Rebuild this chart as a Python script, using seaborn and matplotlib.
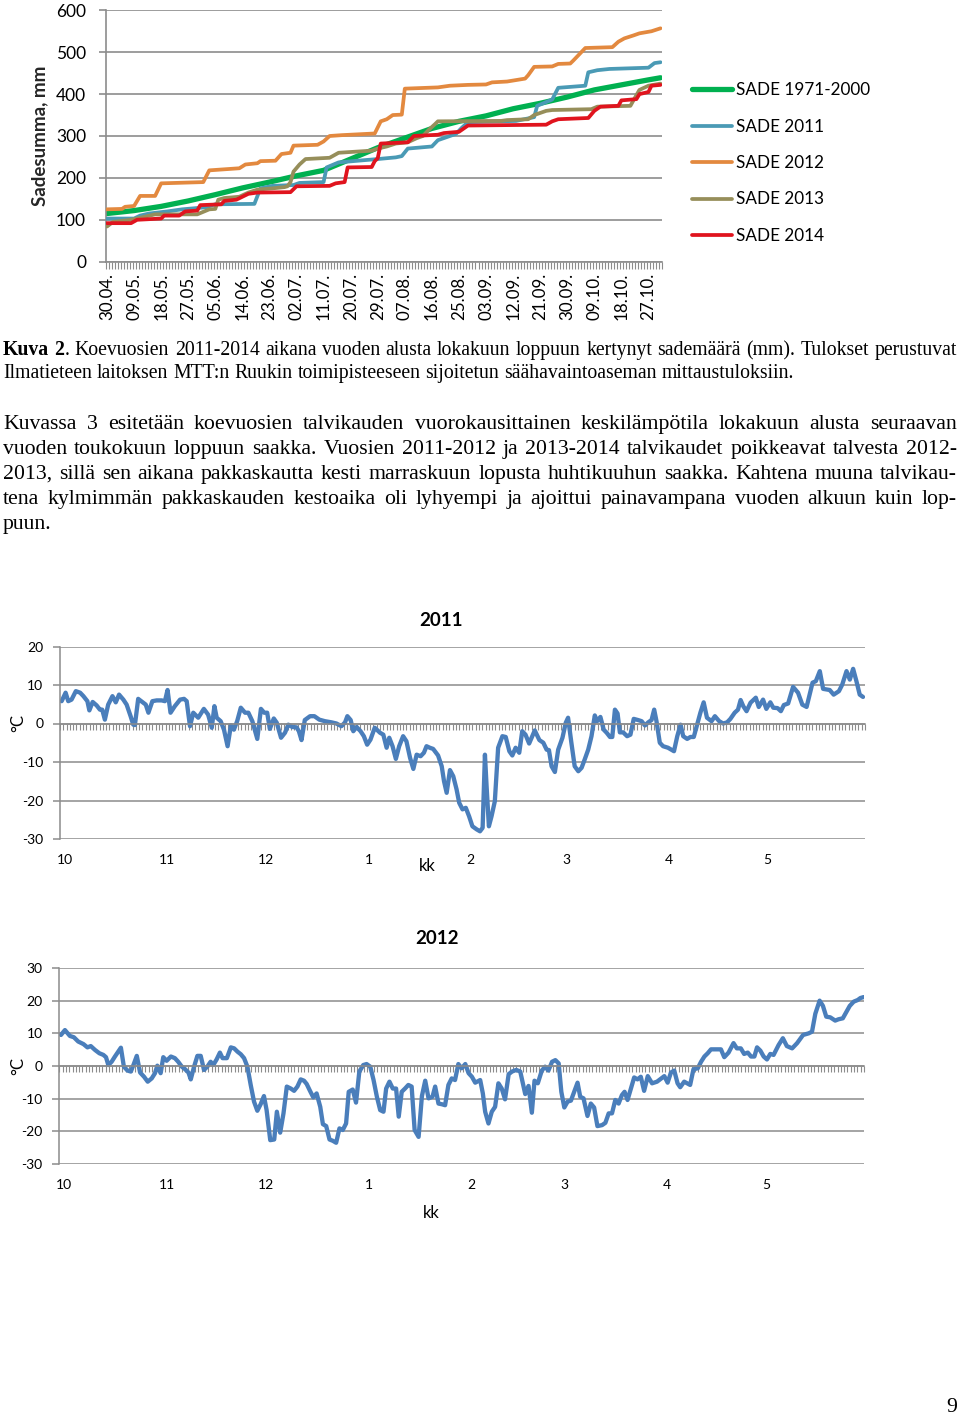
import numpy as np
import pandas as pd
import matplotlib
matplotlib.use("Agg")
import matplotlib.pyplot as plt
import matplotlib.transforms as mtransforms
import seaborn as sns

# ------------------------------------------------------------------ data
N_DAYS_RAIN = 185  # 30.04. ... 31.10.
DATE_LABELS = ["30.04.", "09.05.", "18.05.", "27.05.", "05.06.", "14.06.", "23.06.",
               "02.07.", "11.07.", "20.07.", "29.07.", "07.08.", "16.08.", "25.08.",
               "03.09.", "12.09.", "21.09.", "30.09.", "09.10.", "18.10.", "27.10."]
DATE_LABEL_POS = [0, 9, 18, 27, 36, 45, 54, 63, 72, 81, 90, 99, 108, 117, 126,
                  135, 144, 153, 162, 171, 180]
SERIES_NAMES = ["SADE 1971-2000", "SADE 2011", "SADE 2012", "SADE 2013", "SADE 2014"]

NORM_D = [0, 9, 18, 27, 36, 45, 54, 63, 72, 81, 90, 99, 108, 117, 126, 135, 144,
          153, 162, 171, 180, 184]
NORM_V = [115, 122, 132, 145, 160, 176, 190, 205, 218, 245, 272, 295, 318, 335,
          348, 365, 378, 393, 410, 422, 434, 439]

R2011_D = [0, 9, 11, 14, 20, 25, 33, 36, 49, 51, 55, 62, 64, 72, 73, 77, 85, 90,
           96, 98, 100, 108, 110, 114, 116, 118, 120, 136, 140, 142, 143, 148,
           150, 159, 160, 163, 167, 180, 182, 184]
R2011_V = [103, 103, 110, 115, 120, 125, 130, 137, 138, 175, 181, 183, 188, 190,
           225, 237, 242, 245, 249, 252, 270, 275, 290, 300, 305, 320, 333, 336,
           342, 345, 372, 387, 415, 420, 452, 457, 460, 463, 474, 476]

R2012_D = [0, 5, 6, 9, 11, 16, 18, 32, 34, 44, 46, 50, 51, 56, 58, 61, 62, 70, 72,
           74, 78, 89, 91, 93, 95, 98, 99, 110, 114, 120, 126, 128, 133, 139, 140,
           142, 148, 150, 154, 155, 157, 159, 168, 170, 172, 175, 177, 181, 184]
R2012_V = [125, 126, 131, 133, 157, 157, 187, 190, 218, 223, 232, 235, 240, 241,
           257, 260, 277, 279, 287, 300, 302, 306, 335, 340, 350, 351, 413, 416,
           420, 422, 423, 428, 430, 437, 445, 465, 466, 472, 473, 480, 495, 510,
           512, 525, 533, 540, 545, 550, 557]

R2013_D = [0, 2, 8, 13, 16, 30, 31, 34, 36, 37, 39, 44, 47, 50, 55, 59, 60, 61,
           62, 64, 66, 74, 77, 88, 90, 93, 96, 100, 103, 105, 107, 109, 110, 131,
           133, 140, 142, 144, 146, 148, 161, 163, 174, 175, 177, 180, 184]
R2013_V = [84, 95, 100, 108, 113, 113, 116, 125, 126, 148, 152, 155, 165, 172,
           175, 178, 180, 190, 215, 232, 245, 248, 260, 265, 270, 275, 282, 285,
           295, 300, 315, 328, 335, 336, 338, 340, 350, 355, 360, 362, 364, 370,
           372, 385, 410, 420, 425]

R2014_D = [0, 8, 10, 18, 19, 24, 26, 30, 31, 38, 39, 43, 45, 47, 50, 61, 63, 74,
           76, 79, 80, 88, 89, 90, 91, 100, 102, 110, 112, 117, 119, 120, 146, 148,
           150, 160, 162, 164, 170, 171, 176, 177, 180, 181, 184]
R2014_V = [92, 92, 100, 103, 110, 110, 120, 122, 135, 137, 145, 148, 155, 162,
           165, 166, 180, 181, 187, 190, 225, 226, 240, 247, 282, 285, 300, 303,
           307, 310, 320, 325, 327, 335, 340, 343, 360, 370, 372, 385, 388, 400,
           405, 420, 422]

MONTH_LABELS = ["10", "11", "12", "1", "2", "3", "4", "5"]
N_DAYS_2011 = 244
MONTH_START_2011 = [0, 31, 61, 92, 123, 152, 183, 213]
N_DAYS_2012 = 243
MONTH_START_2012 = [0, 31, 61, 92, 123, 151, 182, 212]

T2011_D = [0, 1.2, 2, 3, 4.3, 5.6, 6.6, 7.8, 8.4, 9.4, 10.6, 11.6, 12.3, 13.1, 14.1,
           15.4, 16.4, 17.4, 18.7, 19.7, 20.9, 21.7, 22.2, 23.2, 24.7, 25.5, 26.3,
           27.5, 28.8, 30.3, 31.3, 32.1, 33, 34.3, 35.9, 37.1, 37.9, 38.9, 39.9,
           41.4, 43.1, 44.4, 45.5, 46.3, 47, 48.2, 49.2, 50.3, 51.3, 52.2, 53.2,
           54.3, 55.6, 56.6, 57.8, 59.3, 60.4, 61.4, 62.3, 63.1, 64.3, 65.2, 66.5,
           67.7, 68.7, 69.9, 71.2, 71.9, 72.7, 73.7, 75.3, 76.6, 78.1, 79.8, 81.8,
           83.3, 84.8, 85.9, 86.6, 87.6, 88.4, 89.4, 90.6, 91.6, 92.6, 93.6, 94.9,
           96.5, 97.5, 98.5, 99.3, 100.3, 101.3, 102.3, 103.5, 104.5, 105.6, 106.6,
           107.6, 108.8, 109.8, 110.6, 111.6, 112.6, 114.1, 115.2, 115.9, 116.7,
           117.7, 118.7, 119.7, 120.5, 121.5, 122.5, 123.5, 124.5, 125.8, 126.8,
           127.6, 128.3, 128.8, 129.5, 130.3, 131.3, 132.3, 133.6, 134.6, 135.7,
           136.6, 137.6, 138.7, 139.6, 140.6, 141.7, 143.4, 144.8, 146, 147, 147.7,
           148.5, 149.5, 150.5, 151.8, 152.8, 153.5, 154.5, 155.5, 156.6, 157.6,
           158.6, 159.6, 160.6, 161.6, 162.3, 163.3, 164.3, 165.2, 166.2, 166.9,
           167.7, 168.5, 169.2, 170.2, 171.4, 172.4, 173.4, 174.7, 175.8, 176.8,
           177.8, 178.8, 179.6, 180.3, 181.3, 182.3, 183.8, 185.6, 186.6, 187.6,
           188.4, 189.6, 190.6, 191.6, 192.6, 193.6, 194.6, 195.6, 197, 198, 199.3,
           200.5, 201.7, 202.7, 204, 205, 205.8, 206.6, 207.6, 208.8, 210.4, 211.3,
           212.6, 213.6, 214.8, 215.7, 217, 218, 218.9, 220.2, 221.7, 223.2, 224.5,
           225.8, 227.6, 228.6, 229.8, 230.8, 232.8, 234, 235.6, 236.6, 237.9,
           238.9, 239.9, 240.9, 241.9, 242.9]
T2011_V = [5.8, 8.0, 5.8, 6.2, 8.4, 8.0, 7.1, 5.8, 3.4, 5.6, 4.7, 3.6, 3.6, 1.0, 4.9,
           7.1, 5.5, 7.5, 6.2, 4.9, 1.9, -0.3, -0.4, 6.4, 5.4, 4.9, 2.8, 5.8, 6.0,
           6.0, 5.8, 8.7, 2.8, 4.5, 6.2, 6.4, 5.8, -0.7, 2.8, 1.5, 3.8, 2.3, -1.1,
           4.5, 1.5, 0.6, -1.6, -5.9, -0.5, -1.6, 0.6, 4.1, 2.8, 2.8, 0.6, -4.0,
           3.8, 2.8, 2.8, -1.4, 1.3, 0.2, -3.7, -2.4, -0.3, -0.9, -1.0, -2.0, -4.3,
           0.9, 1.9, 1.9, 1.0, 0.6, 0.3, 0.0, -0.7, 0.3, 1.9, 0.9, -2.0, -0.9, -2.0,
           -3.3, -5.5, -4.2, -1.1, -2.4, -2.9, -6.3, -3.7, -5.9, -9.2, -5.9, -3.3,
           -4.6, -8.9, -11.8, -8.1, -8.5, -7.6, -5.9, -6.3, -6.6, -8.3, -11.1,
           -15.0, -18.0, -12.1, -13.7, -17.1, -20.6, -22.3, -21.9, -24.1, -26.7,
           -27.5, -28.0, -27.1, -8.1, -16.3, -26.7, -24.1, -20.2, -6.3, -3.3, -3.5,
           -7.2, -8.3, -6.3, -7.6, -2.0, -2.9, -5.2, -1.8, -4.3, -5.0, -6.8, -6.9,
           -11.1, -12.6, -6.8, -3.7, 0.2, 1.5, -5.0, -11.1, -12.4, -11.5, -9.2,
           -6.8, -3.3, 2.1, 0.6, 1.7, -1.6, -2.4, -3.5, -3.5, 3.6, 2.6, -2.3, -2.3,
           -3.3, -2.9, 1.2, 0.9, 0.6, -0.5, 0.3, 0.9, 3.6, 0.6, -5.0, -5.9, -6.3,
           -7.2, -3.3, -0.3, -3.3, -4.0, -3.5, -3.5, -0.3, 2.8, 5.5, 1.5, 0.6, 1.9,
           0.6, 0.0, 0.3, 1.2, 2.8, 3.6, 6.1, 4.5, 3.2, 5.4, 6.7, 4.3, 6.2, 3.8,
           5.5, 4.1, 4.0, 3.2, 4.8, 5.2, 9.5, 8.0, 4.9, 4.3, 10.6, 11.0, 13.6, 9.0,
           8.7, 7.5, 8.4, 10.1, 13.6, 11.4, 14.2, 11.0, 7.5, 6.9]

T2012_D = [0, 1.2, 2.7, 3.9, 5.2, 6.8, 8, 9, 10.3, 11.6, 12.8, 13.6, 14.3, 15.3, 16.3,
           17.3, 18.1, 19, 20.1, 21.1, 22, 22.9, 23.9, 25.1, 26.2, 27.4, 28.4, 29.1,
           30.1, 30.9, 31.9, 33.2, 34.4, 35.4, 36.5, 37.5, 38.5, 39.2, 40.2, 41.2,
           42.2, 43.2, 44.2, 45.2, 46, 47, 48, 48.8, 50.1, 51.3, 52.3, 53.3, 54.3,
           55.3, 56.3, 57.3, 58.3, 59.3, 60.3, 61.3, 62.1, 63.2, 64.4, 65.2, 66.2,
           67.2, 68.2, 69.4, 70.4, 71.4, 72.4, 73.4, 74.2, 75.2, 76.2, 77.2, 78.3,
           79.1, 80.1, 81.1, 82.1, 83.1, 84.1, 85.1, 86.1, 86.9, 88.1, 89.1, 90.1,
           91.3, 92.3, 93.4, 94.4, 95.4, 96.4, 97.4, 98.2, 99.2, 100.2, 101.2, 102,
           102.9, 103.9, 104.9, 105.9, 106.8, 108, 109, 110, 111, 112.2, 113, 114,
           115, 116, 117, 118, 119, 120, 121, 122.1, 123.1, 124.1, 125.1, 126.6,
           127.4, 128.1, 129.1, 130.1, 131.1, 132.1, 133.1, 134.1, 135.2, 136.2,
           137.5, 138.7, 139.7, 140.2, 141.2, 142.2, 143, 144, 145.2, 146.2, 147.2,
           148.3, 149.3, 150.3, 151.1, 152, 153, 154, 154.8, 156, 156.8, 157.8, 159,
           160, 161, 162, 163.4, 164.4, 165.4, 166.4, 167.4, 168.4, 169.4, 170.2,
           171.1, 172.1, 173.1, 174.1, 175.1, 176.1, 177.2, 178.5, 180, 182.2,
           183.2, 184.2, 185.2, 186.2, 187, 188.2, 190, 191, 192.3, 193.3, 194.3,
           195.3, 196.3, 197.6, 199.3, 200.3, 201.6, 203.1, 204.1, 205.3, 206.3,
           207.4, 208.4, 209.4, 210.2, 211.2, 212.2, 213.2, 214.2, 215.2, 216.7,
           218, 219.2, 220.8, 222.3, 224.1, 225.8, 226.8, 227.8, 229.1, 230.1,
           231.1, 232.3, 233.8, 234.8, 236.1, 237.1, 238.2, 239.4, 240.6, 241.4,
           242.4]
T2012_V = [9.5, 11.0, 9.2, 8.8, 7.5, 6.7, 5.7, 6.1, 4.9, 3.9, 3.4, 2.7, 0.3, 1.3, 2.9,
           4.4, 5.6, -0.2, -1.4, -1.7, 0.6, 3.1, -2.0, -3.3, -4.8, -3.8, -2.2, 0.1,
           -2.2, 2.7, 1.6, 2.9, 2.4, 1.3, -0.2, -1.0, -2.0, -4.1, -0.2, 3.1, 3.1,
           -1.2, -0.2, 1.3, 0.3, 2.0, 4.1, 2.4, 2.4, 5.7, 5.4, 4.4, 3.6, 2.4, -0.2,
           -5.8, -10.9, -13.7, -11.7, -9.2, -13.5, -22.7, -22.5, -14.0, -20.4,
           -14.5, -6.3, -6.9, -7.6, -6.3, -4.1, -4.5, -5.5, -7.6, -9.6, -8.4, -12.5,
           -17.8, -18.4, -22.5, -22.9, -23.5, -19.1, -19.6, -17.6, -7.9, -7.2,
           -11.2, -1.7, 0.3, 0.6, -0.2, -4.3, -9.4, -13.5, -14.0, -6.9, -4.8, -6.9,
           -6.9, -15.5, -7.9, -6.9, -5.8, -6.3, -19.6, -21.7, -9.2, -4.5, -9.9,
           -9.4, -6.3, -11.5, -11.7, -12.0, -5.8, -3.8, -4.3, 0.6, -0.7, 0.6, -2.2,
           -3.3, -5.1, -4.3, -8.4, -14.0, -17.6, -14.0, -12.5, -5.3, -6.9, -10.2,
           -2.5, -1.7, -1.2, -1.7, -6.3, -8.6, -6.1, -14.3, -4.5, -5.3, -1.4, -0.2,
           -1.4, 1.3, 1.8, 0.8, -7.9, -12.7, -10.9, -10.6, -8.4, -5.1, -9.4, -9.9,
           -15.3, -11.5, -12.7, -18.4, -18.1, -17.4, -14.5, -14.5, -10.4, -11.5,
           -8.9, -7.9, -10.4, -6.9, -3.5, -4.1, -3.3, -7.6, -3.1, -5.3, -4.8, -3.1,
           -5.1, -2.0, -1.4, -5.3, -6.5, -4.8, -5.8, -1.0, -0.7, 1.3, 2.9, 3.9, 5.1,
           5.1, 5.1, 2.7, 4.1, 7.0, 5.4, 5.4, 3.7, 4.1, 2.9, 2.9, 5.7, 4.7, 2.9, 2.0,
           3.7, 3.4, 6.4, 8.5, 6.1, 5.4, 7.0, 9.5, 10.0, 10.5, 16.0, 20.0, 18.4,
           15.1, 14.9, 13.9, 14.3, 14.6, 16.4, 18.4, 19.7, 20.2, 20.8, 21.1]

CAPTION_LINES = [
    "Kuva 2. Koevuosien 2011-2014 aikana vuoden alusta lokakuun loppuun kertynyt sademäärä (mm). Tulokset perustuvat",
    "Ilmatieteen laitoksen MTT:n Ruukin toimipisteeseen sijoitetun säähavaintoaseman mittaustuloksiin.",
]
PARA_LINES = [
    "Kuvassa 3 esitetään koevuosien talvikauden vuorokausittainen keskilämpötila lokakuun alusta seuraavan",
    "vuoden toukokuun loppuun saakka. Vuosien 2011-2012 ja 2013-2014 talvikaudet poikkeavat talvesta 2012-",
    "2013, sillä sen aikana pakkaskautta kesti marraskuun lopusta huhtikuuhun saakka. Kahtena muuna talvikau-",
    "tena kylmimmän pakkaskauden kestoaika oli lyhyempi ja ajoittui painavampana vuoden alkuun kuin lop-",
    "puun.",
]
PAGE_NUMBER = "9"

# ------------------------------------------------------------------ style
W, H = 960, 1417
sns.set_theme(style="white")
plt.rcParams["font.family"] = ["Lato", "DejaVu Sans"]
plt.rcParams["text.color"] = "black"
plt.rcParams["axes.unicode_minus"] = False
GRID = "#8c8c8c"
COLORS = ["#00B050", "#4A9AB5", "#E3893F", "#968E5A", "#E0141E"]
TEMP_COLOR = "#4A7EBB"
SERIF = ["Liberation Serif", "DejaVu Serif"]

fig = plt.figure(figsize=(W / 100, H / 100), dpi=100, facecolor="white")


def px_axes(l, t, r, b):
    return fig.add_axes([l / W, 1 - b / H, (r - l) / W, (b - t) / H])


def sline(ax, d, v, color, lw, label=None, z=2):
    df = pd.DataFrame({"d": d, "v": v})
    sns.lineplot(data=df, x="d", y="v", ax=ax, color=color, linewidth=lw,
                 sort=False, estimator=None, label=label, zorder=z,
                 solid_joinstyle="round", solid_capstyle="round")


# ------------------------------------------------------------------ rain chart
ax1 = px_axes(105.5, 10.3, 662, 261.7)
rain = [(NORM_D, NORM_V, 3.8), (R2011_D, R2011_V, 2.7), (R2012_D, R2012_V, 2.7),
        (R2013_D, R2013_V, 2.7), (R2014_D, R2014_V, 2.7)]
for k, (d, v, lw) in enumerate(rain):
    sline(ax1, d, v, COLORS[k], lw, label=SERIES_NAMES[k], z=2 + k)
handles, labels = ax1.get_legend_handles_labels()
if ax1.get_legend() is not None:
    ax1.get_legend().remove()
ax1.set_xlim(-0.5, N_DAYS_RAIN - 0.5)
ax1.set_ylim(0, 600)
ax1.set_xlabel("")
ax1.set_ylabel("Sadesumma, mm", fontsize=13.5, fontweight="bold")
ax1.yaxis.set_label_coords(-0.102, 0.5)
ax1.set_yticks(range(0, 601, 100))
ax1.yaxis.grid(True, color=GRID, lw=1.2)
ax1.xaxis.grid(False)
ax1.set_axisbelow(True)
for s in ["top", "right"]:
    ax1.spines[s].set_visible(False)
for s in ["left", "bottom"]:
    ax1.spines[s].set_color(GRID)
    ax1.spines[s].set_linewidth(1.2)
ax1.tick_params(axis="y", left=True, length=5, width=1.2, color=GRID,
                labelsize=12.5, labelcolor="black", pad=9)
ax1.set_xticks(DATE_LABEL_POS)
ax1.set_xticklabels(DATE_LABELS, rotation=90)
ax1.tick_params(axis="x", which="major", bottom=True, length=0, pad=8,
                labelsize=12.2, labelcolor="black")
ax1.set_xticks(np.arange(-0.5, N_DAYS_RAIN, 1.0), minor=True)
ax1.tick_params(axis="x", which="minor", bottom=True, length=5, width=0.8, color=GRID)

fig.legend(handles, labels, loc="upper left", bbox_to_anchor=(692 / W, 1 - 82 / H),
           bbox_transform=fig.transFigure, frameon=False, fontsize=12.3,
           borderpad=0, borderaxespad=0, handlelength=2.35, handletextpad=0.25,
           labelspacing=1.2)


# ------------------------------------------------------------------ temperature charts
def temp_chart(box, days, vals, ylim, n_days, month_start, title, title_xy, kk_xy, c_xy):
    ax = px_axes(*box)
    sline(ax, days, vals, TEMP_COLOR, 3.1)
    ax.set_xlim(-0.5, n_days - 0.5)
    ax.set_ylim(*ylim)
    ax.set_xlabel("")
    ax.set_ylabel("")
    ax.set_yticks(np.arange(ylim[0], ylim[1] + 1, 10))
    ax.yaxis.grid(True, color=GRID, lw=1.1)
    ax.xaxis.grid(False)
    ax.set_axisbelow(True)
    for s in ["top", "right"]:
        ax.spines[s].set_visible(False)
    ax.spines["left"].set_color(GRID)
    ax.spines["left"].set_linewidth(1.1)
    ax.spines["bottom"].set_position(("data", 0))
    ax.spines["bottom"].set_color(GRID)
    ax.spines["bottom"].set_linewidth(1.1)
    ax.tick_params(axis="y", left=True, length=5, width=1.1, color=GRID,
                   labelsize=10, labelcolor="black", pad=7)
    ax.set_xticks([])
    ax.set_xticks(np.arange(-0.5, n_days, 1.0), minor=True)
    ax.tick_params(axis="x", which="minor", bottom=True, length=4, width=0.8,
                   color=GRID, labelbottom=False)
    trans = mtransforms.offset_copy(
        mtransforms.blended_transform_factory(ax.transData, ax.transAxes),
        fig=fig, y=-21, units="dots")
    for lab, st in zip(MONTH_LABELS, month_start):
        ax.text(st + 1, 0, lab, transform=trans, ha="center", va="center",
                fontsize=10, color="black")
    fig.text(title_xy[0] / W, 1 - title_xy[1] / H, title, ha="center", va="center",
             fontsize=13.5, fontweight="bold")
    fig.text(kk_xy[0] / W, 1 - kk_xy[1] / H, "kk", ha="center", va="center", fontsize=12)
    fig.text(c_xy[0] / W, 1 - c_xy[1] / H, "°C", ha="center", va="center",
             fontsize=12, rotation=90)
    return ax


temp_chart((60, 646.5, 865, 839), T2011_D, T2011_V, (-30, 20), N_DAYS_2011,
           MONTH_START_2011, "2011", (441, 620), (427, 866), (18, 723))
temp_chart((59.3, 968, 864, 1164), T2012_D, T2012_V, (-30, 30), N_DAYS_2012,
           MONTH_START_2012, "2012", (437, 938), (431, 1213), (18, 1066))

# ------------------------------------------------------------------ body text
renderer = fig.canvas.get_renderer()


def text_w(s, size, weight="normal"):
    t = fig.text(0, 0, s, fontsize=size, family=SERIF, fontweight=weight)
    w = t.get_window_extent(renderer).width
    t.remove()
    return w


base_size = 14.0
FS_CAP = base_size * 794.0 / text_w(CAPTION_LINES[1], base_size)
FS_PARA = FS_CAP * 1.1
X0, X1 = 3, 957


def put_line(words, base_y, justify, fs):
    space = text_w("a a", fs) - text_w("aa", fs)
    widths = [sum(text_w(t, fs, wt) for t, wt in w) for w in words]
    if justify and len(words) > 1:
        gap = (X1 - X0 - sum(widths)) / (len(words) - 1)
    else:
        gap = space
    x = X0
    for w, ww in zip(words, widths):
        xx = x
        for t, wt in w:
            fig.text(xx / W, 1 - base_y / H, t, fontsize=fs, family=SERIF,
                     fontweight=wt, ha="left", va="baseline")
            xx += text_w(t, fs, wt)
        x += ww + gap


def plain_words(line):
    return [[(w, "normal")] for w in line.split(" ")]


cap1 = plain_words(CAPTION_LINES[0])
cap1[0] = [("Kuva", "bold")]
cap1[1] = [("2", "bold"), (".", "normal")]
put_line(cap1, 355, True, FS_CAP)
put_line(plain_words(CAPTION_LINES[1]), 378, False, FS_CAP)
para_y = [429, 454, 479, 504, 529]
for i, line in enumerate(PARA_LINES):
    put_line(plain_words(line), para_y[i], i < len(PARA_LINES) - 1, FS_PARA)

fig.text(952 / W, 1 - 1412 / H, PAGE_NUMBER, fontsize=FS_PARA, family=SERIF,
         ha="center", va="baseline")

fig.savefig("out.png", dpi=100, facecolor="white")
